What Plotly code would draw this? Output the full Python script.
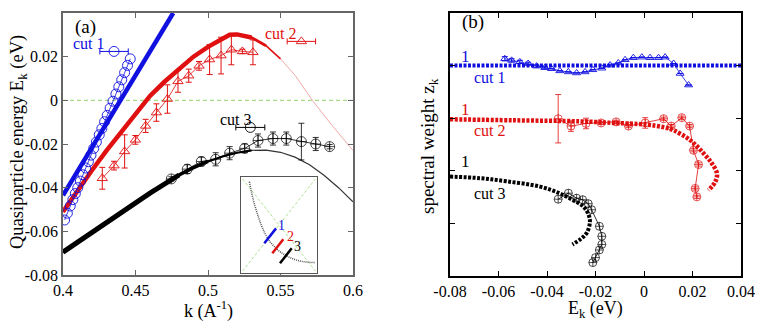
import plotly.graph_objects as go

FONT = "Liberation Serif"
# the page body adds an 8px margin, so the figure is drawn 8px in from the window corner
PAD = 8
W, H = 763 - PAD, 327 - PAD


def fx(px):
    return (px - PAD) / W


def fy(py):
    return 1 - (py - PAD) / H


# ---------------- panel (a): quasiparticle dispersion ----------------
# theory curves
blue_line_k = [0.400, 0.476]
blue_line_e = [-0.0435, 0.040]

red_curve_k = [0.40, 0.41, 0.42, 0.43, 0.44, 0.45, 0.46, 0.47, 0.48, 0.49, 0.50, 0.51, 0.515, 0.52,
               0.53, 0.54, 0.55, 0.56, 0.572, 0.585, 0.60]
red_curve_e = [-0.051, -0.0413, -0.032, -0.023, -0.0145, -0.006, 0.002, 0.0085, 0.0145, 0.020, 0.0245, 0.0285,
               0.0300, 0.0302, 0.0288, 0.025, 0.019, 0.0115, 0.0, -0.011, -0.023]

black_curve_k = [0.40, 0.42, 0.44, 0.46, 0.48, 0.49, 0.50, 0.51, 0.52, 0.53, 0.54, 0.55, 0.56, 0.57, 0.58, 0.59, 0.60]
black_curve_e = [-0.0695, -0.0605, -0.0513, -0.0425, -0.0342, -0.0308, -0.028, -0.0257, -0.0240, -0.0229, -0.0228,
                 -0.0238, -0.0260, -0.0295, -0.0343, -0.0400, -0.0465]

# data: cut 1 (blue circles)
cut1_k = [0.4011, 0.4030, 0.4050, 0.4068, 0.4085, 0.4102, 0.4120, 0.4138, 0.4157, 0.4175, 0.4193, 0.4212,
          0.4230, 0.4250, 0.4268, 0.4287, 0.4305, 0.4325, 0.4345, 0.4365, 0.4385, 0.4405, 0.4425, 0.4445, 0.4464]
cut1_e = [-0.0548, -0.0517, -0.0484, -0.0455, -0.0427, -0.0400, -0.0370, -0.0341, -0.0310, -0.0281, -0.0251, -0.0220,
          -0.0191, -0.0158, -0.0129, -0.0098, -0.0069, -0.0036, -0.0004, 0.0029, 0.0062, 0.0094, 0.0127, 0.0160, 0.0190]

# data: cut 2 (red triangles)
cut2_k = [0.4271, 0.4352, 0.4425, 0.4499, 0.4570, 0.4644, 0.4720, 0.4793, 0.4867, 0.4938, 0.5011, 0.5090, 0.5161, 0.5237, 0.5310]
cut2_e = [-0.0357, -0.0299, -0.0234, -0.0181, -0.0117, -0.0056, 0.0006, 0.0087, 0.0113, 0.0158, 0.0187, 0.0205, 0.0232, 0.0224, 0.0220]
cut2_err = [0.005, 0.002, 0.0076, 0.002, 0.003, 0.004, 0.0065, 0.005, 0.003, 0.002, 0.0069, 0.0084, 0.0069, 0.001, 0.0057]

# data: cut 3 (black circles)
cut3_k = [0.4747, 0.4857, 0.4954, 0.5053, 0.5149, 0.5253, 0.5345, 0.5448, 0.5540, 0.5644, 0.5743, 0.5839]
cut3_e = [-0.0360, -0.0315, -0.0280, -0.0270, -0.0242, -0.0220, -0.0184, -0.0175, -0.0175, -0.0189, -0.0200, -0.0212]
cut3_err = [0.001, 0.002, 0.002, 0.003, 0.003, 0.002, 0.003, 0.003, 0.003, 0.0084, 0.003, 0.001]

# resolution markers next to the cut labels
res_k = [0.4352, 0.5644, 0.5292]
res_e = [0.0224, 0.0270, -0.0124]
res_dk = [0.0098, 0.0098, 0.0100]

a_xticks = [0.4, 0.45, 0.5, 0.55, 0.6]
a_xlabels = ["0.4", "0.45", "0.5", "0.55", "0.6"]
a_yticks = [-0.08, -0.06, -0.04, -0.02, 0, 0.02, 0.04]
a_ylabels = ["-0.08", "-0.06", "-0.04", "-0.02", "0", "0.02", "0.04"]

# inset: schematic Fermi surface with the three cuts
fs_u = [0.11, 0.162, 0.228, 0.294, 0.382, 0.513, 0.667, 0.820, 0.974]
fs_v = [0.951, 0.760, 0.587, 0.448, 0.326, 0.222, 0.153, 0.118, 0.108]
inset_cuts_u = [[0.307, 0.461], [0.412, 0.557], [0.513, 0.667]]
inset_cuts_v = [[0.309, 0.465], [0.205, 0.351], [0.101, 0.257]]

# ---------------- panel (b): spectral weight ----------------
# each cut is drawn as offset + 2*z
offsets = {"cut1": 2, "cut2": 1, "cut3": 0}

b1_line_e = [-0.08, 0.04]
b1_line_z = [1.0, 1.0]
b1_e = [-0.0574, -0.0546, -0.0512, -0.0478, -0.0443, -0.0409, -0.0381, -0.0347, -0.0312, -0.0278, -0.0243, -0.0211,
        -0.0174, -0.0140, -0.0106, -0.0078, -0.0044, -0.0009, 0.0025, 0.0060, 0.0087, 0.0122, 0.0149, 0.0184]
b1_z = [1.065, 1.05, 1.035, 1.02, 0.995, 0.98, 0.97, 0.95, 0.94, 0.93, 0.94, 0.96,
        0.975, 1.005, 1.025, 1.055, 1.075, 1.08, 1.075, 1.075, 1.08, 1.02, 0.925, 0.815]
b1_err = [0.02, 0.015, 0.015, 0.012, 0.01, 0.01, 0, 0, 0, 0, 0, 0, 0, 0, 0, 0, 0, 0, 0, 0, 0, 0, 0, 0]

b2_line_e = [-0.08, -0.054, -0.0264, -0.0126, 0.0005, 0.008, 0.0122, 0.0191, 0.0246, 0.028, 0.0301, 0.0294, 0.0266]
b2_line_z = [0.99, 0.98, 0.97, 0.955, 0.94, 0.915, 0.885, 0.79, 0.665, 0.57, 0.475, 0.395, 0.315]
b2_e = [-0.0354, -0.0301, -0.0239, -0.0177, -0.0115, -0.0064, 0.0005, 0.0081, 0.0112, 0.0156, 0.0188, 0.0204, 0.0225, 0.0211, 0.0218]
b2_z = [0.995, 0.925, 0.95, 0.955, 0.965, 0.925, 0.955, 0.995, 0.925, 1.005, 0.925, 0.695, 0.56, 0.3325, 0.2525]
b2_err = [0.23, 0.05, 0.05, 0.015, 0.015, 0.015, 0.05, 0.015, 0.015, 0.015, 0.015, 0.015, 0.015, 0.015, 0.015]

b3_line_e = [-0.08, -0.0677, -0.0567, -0.0429, -0.0347, -0.0292, -0.0250, -0.0228, -0.0223, -0.0236, -0.0262, -0.0295]
b3_line_z = [0.945, 0.93, 0.90, 0.85, 0.785, 0.72, 0.66, 0.58, 0.51, 0.41, 0.35, 0.30]
b3_e = [-0.0354, -0.0312, -0.0278, -0.0253, -0.0230, -0.0216, -0.0184, -0.0174, -0.0174, -0.0184, -0.0200, -0.0211]
b3_z = [0.73, 0.7875, 0.74, 0.725, 0.6875, 0.63, 0.4725, 0.3775, 0.30, 0.2475, 0.175, 0.1275]

b_xticks = [-0.08, -0.06, -0.04, -0.02, 0, 0.02, 0.04]
b_xlabels = ["-0.08", "-0.06", "-0.04", "-0.02", "0", "0.02", "0.04"]


def shift(z, off):
    return [off + 2 * v for v in z]


BLUE, RED, BLACK = "#1010e0", "#e01010", "#000000"

fig = go.Figure()

# --- panel (a) ---
fig.add_trace(go.Scatter(x=[0.4, 0.6], y=[0, 0], mode="lines",
                         line=dict(color="#8fd46a", width=1, dash="4px,3px")))
fig.add_trace(go.Scatter(x=blue_line_k, y=blue_line_e, mode="lines", line=dict(color=BLUE, width=4.5)))

# red curve, thinning past the maximum
fig.add_trace(go.Scatter(x=red_curve_k, y=red_curve_e, mode="lines",
                         line=dict(color="#f2a8a8", width=1)))
for n, w in [(17, 1.6), (16, 2.8), (15, 4.5)]:
    fig.add_trace(go.Scatter(x=red_curve_k[:n], y=red_curve_e[:n], mode="lines",
                             line=dict(color=RED, width=w)))

# black curve, thinning with k
fig.add_trace(go.Scatter(x=black_curve_k, y=black_curve_e, mode="lines",
                         line=dict(color="#333333", width=1.2)))
for n, w in [(10, 2.2), (7, 3.5), (5, 5)]:
    fig.add_trace(go.Scatter(x=black_curve_k[:n], y=black_curve_e[:n], mode="lines",
                             line=dict(color=BLACK, width=w)))

fig.add_trace(go.Scatter(x=cut1_k, y=cut1_e, mode="lines+markers",
                         line=dict(color=BLUE, width=0.8),
                         marker=dict(symbol="circle-open", size=10, color=BLUE, line=dict(width=0.9))))
fig.add_trace(go.Scatter(x=cut2_k, y=cut2_e, mode="lines+markers",
                         line=dict(color=RED, width=0.8),
                         error_y=dict(type="data", array=cut2_err, color=RED, thickness=1, width=3),
                         marker=dict(symbol="triangle-up-open", size=9, color=RED, line=dict(width=0.9))))
fig.add_trace(go.Scatter(x=cut3_k, y=cut3_e, mode="lines+markers",
                         line=dict(color=BLACK, width=0.8),
                         error_y=dict(type="data", array=cut3_err, color=BLACK, thickness=0.8, width=3),
                         marker=dict(symbol="circle-cross-open", size=10, color=BLACK, line=dict(width=0.7))))

res_sym = ["circle-open", "triangle-up-open", "circle-open"]
res_col = [BLUE, RED, BLACK]
res_size = [10, 9, 10]
for i in range(3):
    fig.add_trace(go.Scatter(x=[res_k[i]], y=[res_e[i]], mode="markers",
                             error_x=dict(type="data", array=[res_dk[i]], color=res_col[i], thickness=1, width=3),
                             marker=dict(symbol=res_sym[i], size=res_size[i], color=res_col[i], line=dict(width=0.9))))

# --- inset ---
fig.add_trace(go.Scatter(x=[0.02, 0.98], y=[0.98, 0.02], mode="lines", xaxis="x3", yaxis="y3",
                         line=dict(color="#9ad87a", width=0.8, dash="3px,2px")))
fig.add_trace(go.Scatter(x=[0.02, 0.98], y=[0.02, 0.98], mode="lines", xaxis="x3", yaxis="y3",
                         line=dict(color="#9ad87a", width=0.8, dash="3px,2px")))
fig.add_trace(go.Scatter(x=fs_u, y=fs_v, mode="lines", xaxis="x3", yaxis="y3",
                         line=dict(color="#555555", width=1.5, dash="1px,1px", shape="spline")))
for u, v, c in zip(inset_cuts_u, inset_cuts_v, [BLUE, RED, BLACK]):
    fig.add_trace(go.Scatter(x=u, y=v, mode="lines", xaxis="x3", yaxis="y3", line=dict(color=c, width=2.5)))

# --- panel (b) ---
fig.add_trace(go.Scatter(x=b1_line_e, y=shift(b1_line_z, offsets["cut1"]), mode="lines", xaxis="x2", yaxis="y2",
                         line=dict(color=BLUE, width=4, dash="3px,1.5px")))
fig.add_trace(go.Scatter(x=b2_line_e, y=shift(b2_line_z, offsets["cut2"]), mode="lines", xaxis="x2", yaxis="y2",
                         line=dict(color=RED, width=4.5, dash="3px,1.5px", shape="spline")))
fig.add_trace(go.Scatter(x=b3_line_e, y=shift(b3_line_z, offsets["cut3"]), mode="lines", xaxis="x2", yaxis="y2",
                         line=dict(color=BLACK, width=4, dash="3px,1.5px", shape="spline")))

fig.add_trace(go.Scatter(x=b1_e, y=shift(b1_z, offsets["cut1"]), mode="lines+markers", xaxis="x2", yaxis="y2",
                         line=dict(color=BLUE, width=0.8),
                         error_y=dict(type="data", array=[2 * e for e in b1_err], color=BLUE, thickness=1, width=3),
                         marker=dict(symbol="triangle-up-open", size=7, color=BLUE, line=dict(width=0.9))))
fig.add_trace(go.Scatter(x=b2_e, y=shift(b2_z, offsets["cut2"]), mode="lines+markers", xaxis="x2", yaxis="y2",
                         line=dict(color=RED, width=0.8),
                         error_y=dict(type="data", array=[2 * e for e in b2_err], color=RED, thickness=0.8, width=3),
                         marker=dict(symbol="circle-cross-open", size=8, color=RED, line=dict(width=0.7))))
fig.add_trace(go.Scatter(x=b3_e, y=shift(b3_z, offsets["cut3"]), mode="lines+markers", xaxis="x2", yaxis="y2",
                         line=dict(color=BLACK, width=0.8),
                         marker=dict(symbol="circle-cross-open", size=8, color=BLACK, line=dict(width=0.7))))

# --- axes ---
axis_common = dict(showgrid=False, zeroline=False, ticks="inside", ticklen=5, showline=True, mirror="ticks",
                   automargin=False, tickfont=dict(family=FONT, size=16, color="black"))
inset_axis = dict(range=[0, 1], showgrid=False, zeroline=False, showticklabels=False, ticks="",
                  showline=True, mirror=True, linecolor="#555555", linewidth=1.2, automargin=False)
fig.update_layout(
    width=W, height=H, margin=dict(l=0, r=0, t=0, b=0, autoexpand=False),
    paper_bgcolor="white", plot_bgcolor="white", showlegend=False,
    font=dict(family=FONT, color="black"),
    xaxis=dict(domain=[fx(63), fx(353)], range=[0.4, 0.6], tickvals=a_xticks, ticktext=a_xlabels,
               linecolor="#666666", tickcolor="#666666", linewidth=1.5, **axis_common),
    yaxis=dict(domain=[fy(275), fy(13)], range=[-0.08, 0.04], tickvals=a_yticks, ticktext=a_ylabels,
               linecolor="#666666", tickcolor="#666666", linewidth=1.5, **axis_common),
    xaxis2=dict(domain=[fx(450), fx(741)], range=[-0.08, 0.04], tickvals=b_xticks, ticktext=b_xlabels,
                anchor="y2", linecolor="black", tickcolor="black", linewidth=1.5, **axis_common),
    yaxis2=dict(domain=[fy(276), fy(13)], range=[0, 5], tickvals=[1, 2, 3, 4], showticklabels=False,
                anchor="x2", linecolor="black", tickcolor="black", linewidth=1.5, **axis_common),
    xaxis3=dict(domain=[fx(241), fx(317)], anchor="y3", **inset_axis),
    yaxis3=dict(domain=[fy(273), fy(177)], anchor="x3", **inset_axis),
)
fig.add_shape(type="rect", xref="x3 domain", yref="y3 domain", x0=0, x1=1, y0=0, y1=1,
              fillcolor="white", line=dict(width=0), layer="below")


# --- text ---
def note(text, x, y, ref="", size=17, color="black", angle=0):
    fig.add_annotation(text=text, x=x, y=y, xref="x" + ref if ref != "paper" else "paper",
                       yref="y" + ref if ref != "paper" else "paper", showarrow=False, textangle=angle,
                       font=dict(family=FONT, size=size, color=color), xanchor="center", yanchor="middle")


note("Quasiparticle energy E<sub>k</sub> (eV)", fx(18), fy(142), ref="paper", size=18.5, angle=-90)
note("k (A<sup>-1</sup>)", fx(208), fy(310), ref="paper", size=18)
note("spectral weight z<sub>k</sub>", fx(429), fy(146), ref="paper", size=19, angle=-90)
note("E<sub>k</sub> (eV)", fx(595), fy(309), ref="paper", size=18)

note("(a)", 0.4152, 0.0336, size=19)
note("cut 1", 0.4180, 0.0262, size=16, color=BLUE)
note("cut 2", 0.5503, 0.0308, size=16, color=RED)
note("cut 3", 0.5195, -0.0088, size=16, color=BLACK)

note("1", 0.535, 0.50, ref="3", size=14, color=BLUE)
note("2", 0.645, 0.385, ref="3", size=14, color=RED)
note("3", 0.741, 0.281, ref="3", size=14, color=BLACK)

note("(b)", -0.0706, 4.82, ref="2", size=19)
note("1", -0.0735, 4.18, ref="2", color=BLUE)
note("cut 1", -0.0635, 3.77, ref="2", size=16, color=BLUE)
note("1", -0.0735, 3.17, ref="2", color=RED)
note("cut 2", -0.0635, 2.77, ref="2", size=16, color=RED)
note("1", -0.0735, 2.18, ref="2", color=BLACK)
note("cut 3", -0.0635, 1.57, ref="2", size=16, color=BLACK)
note("0", -0.0834, 2.15, ref="2", color=BLUE)
note("0", -0.0834, 1.18, ref="2", color=RED)
note("0", -0.0834, 0.16, ref="2", color=BLACK)

fig.write_html("out.html")
